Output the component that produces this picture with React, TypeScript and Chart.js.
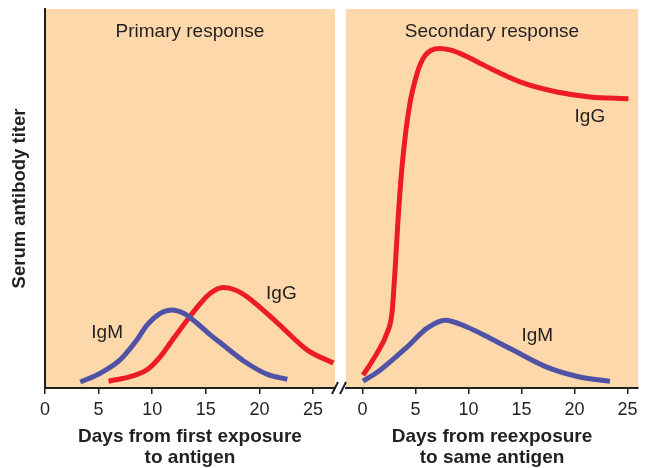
import React, { useEffect, useRef } from "react";
import { Chart, registerables } from "chart.js";

Chart.register(...registerables);

// ---------- data ----------
const TICKS = [0, 5, 10, 15, 20, 25];

const PRIMARY_IGM_DAYS = [3.3, 5.16, 7.0, 8.58, 9.51, 10.76, 11.85, 12.93, 14.18, 15.42, 16.5, 18.5, 20.74, 22.6];
const PRIMARY_IGM_TITER = [1.6, 3.9, 7.4, 12.7, 16.6, 19.7, 20.6, 19.7, 17.1, 14.0, 11.6, 7.2, 3.6, 2.3];

const PRIMARY_IGG_DAYS = [5.93, 7.96, 9.51, 10.76, 12.0, 13.25, 14.49, 15.42, 16.63, 17.8, 18.87, 21.67, 24.47, 26.9];
const PRIMARY_IGG_TITER = [1.8, 3.0, 4.8, 8.3, 13.1, 17.9, 22.3, 25.0, 26.5, 25.8, 24.0, 17.2, 10.0, 6.6];

const SECONDARY_IGG_DAYS = [0.05, 1.37, 2.31, 2.78, 3.07, 3.35, 3.7, 4.1, 4.5, 4.95, 5.42, 5.9, 6.53, 7.31, 8.25, 9.51, 11.08, 12.66, 15.14, 18.35, 21.46, 25.1];
const SECONDARY_IGG_TITER = [3.4, 9.2, 14.5, 19.8, 31.1, 44.3, 57.5, 68.0, 75.5, 81.0, 85.2, 87.7, 89.2, 89.6, 89.2, 87.9, 85.7, 83.5, 80.5, 78.1, 76.8, 76.3];

const SECONDARY_IGM_DAYS = [0.05, 1.65, 4.2, 6.1, 7.8, 9.85, 12.0, 14.2, 17.4, 20.5, 23.35];
const SECONDARY_IGM_TITER = [1.8, 4.7, 10.8, 15.8, 17.9, 16.1, 13.2, 10.0, 5.5, 2.9, 1.8];

const PRIMARY_TITLE = "Primary response";
const SECONDARY_TITLE = "Secondary response";
const PRIMARY_X_TITLE = ["Days from first exposure", "to antigen"];
const SECONDARY_X_TITLE = ["Days from reexposure", "to same antigen"];
const Y_TITLE = "Serum antibody titer";

// curve labels: [text, day, titer]
const PRIMARY_LABELS: [string, number, number][] = [
  ["IgM", 5.8, 14.5],
  ["IgG", 22.05, 24.8],
];
const SECONDARY_LABELS: [string, number, number][] = [
  ["IgG", 21.46, 71.5],
  ["IgM", 16.5, 13.7],
];

// ---------- styles ----------
const INK = "#231f20";
const PEACH = "#fdd8ab";
const RED = "#ed1c24";
const BLUE = "#5052a6";
const FONT = "'Liberation Sans', Arial, Helvetica, sans-serif";

const pts = (xs: number[], ys: number[]) => xs.map((x, i) => ({ x, y: ys[i] }));

const lineDs = (label: string, xs: number[], ys: number[], color: string) => ({
  label,
  data: pts(xs, ys),
  borderColor: color,
  backgroundColor: color,
  borderWidth: 5,
  pointRadius: 0,
  fill: false,
  cubicInterpolationMode: "monotone" as const,
  borderCapStyle: "butt" as const,
  borderJoinStyle: "round" as const,
});

const bgPlugin = {
  id: "peachBg",
  beforeDraw(chart: any) {
    const { ctx, chartArea: a } = chart;
    ctx.save();
    ctx.fillStyle = PEACH;
    ctx.fillRect(a.left, a.top, a.right - a.left, a.bottom - a.top);
    ctx.restore();
  },
};

const textPlugin = (title: string, labels: [string, number, number][]) => ({
  id: "texts",
  afterDatasetsDraw(chart: any) {
    const { ctx, chartArea: a, scales } = chart;
    ctx.save();
    ctx.fillStyle = INK;
    ctx.font = `19px ${FONT}`;
    ctx.textAlign = "center";
    ctx.textBaseline = "middle";
    ctx.fillText(title, (a.left + a.right) / 2, a.top + 23);
    labels.forEach(([t, x, y]) => {
      ctx.fillText(t, scales.x.getPixelForValue(x), scales.y.getPixelForValue(y));
    });
    ctx.restore();
  },
});

const breakPlugin = {
  id: "axisBreak",
  afterDraw(chart: any) {
    const { ctx, chartArea: a } = chart;
    ctx.save();
    ctx.strokeStyle = INK;
    ctx.lineWidth = 2;
    [-11, -3].forEach((o) => {
      ctx.beginPath();
      ctx.moveTo(a.left + o - 3, a.bottom + 6);
      ctx.lineTo(a.left + o + 3, a.bottom - 6);
      ctx.stroke();
    });
    ctx.restore();
  },
};

const xScale = (min: number, max: number, title: string[]) => ({
  type: "linear" as const,
  min,
  max,
  afterBuildTicks: (s: any) => {
    s.ticks = TICKS.map((v) => ({ value: v }));
  },
  afterFit: (s: any) => {
    s.height = 80;
  },
  grid: {
    display: true,
    drawOnChartArea: false,
    drawTicks: true,
    tickLength: 6,
    color: INK,
    lineWidth: 1.5,
  },
  border: { display: true, color: INK, width: 2 },
  ticks: {
    color: INK,
    font: { family: FONT, size: 18 },
    padding: 5,
    maxRotation: 0,
    autoSkip: false,
  },
  title: {
    display: true,
    text: title,
    color: INK,
    font: { family: FONT, size: 19, weight: "bold" as const, lineHeight: 1.1 },
    padding: { top: 0, bottom: 0 },
  },
});

export default function App() {
  const leftRef = useRef<HTMLCanvasElement>(null);
  const rightRef = useRef<HTMLCanvasElement>(null);

  useEffect(() => {
    const left = new Chart(leftRef.current!, {
      type: "line",
      data: {
        datasets: [
          lineDs("IgM", PRIMARY_IGM_DAYS, PRIMARY_IGM_TITER, BLUE),
          lineDs("IgG", PRIMARY_IGG_DAYS, PRIMARY_IGG_TITER, RED),
        ] as any,
      },
      options: {
        animation: false,
        responsive: false,
        layout: { padding: { top: 9, right: 5, left: 0, bottom: 0 } },
        plugins: { legend: { display: false }, tooltip: { enabled: false } },
        scales: {
          x: xScale(0, 27.05, PRIMARY_X_TITLE) as any,
          y: {
            min: 0,
            max: 100,
            afterFit: (s: any) => {
              s.width = 45;
            },
            ticks: { display: false },
            grid: { display: false },
            border: { display: true, color: INK, width: 2 },
            title: {
              display: true,
              text: Y_TITLE,
              color: INK,
              font: { family: FONT, size: 18.5, weight: "bold" as const, lineHeight: 1.2 },
              padding: { top: 9, bottom: 0 },
            },
          },
        },
      },
      plugins: [bgPlugin, textPlugin(PRIMARY_TITLE, PRIMARY_LABELS)],
    });

    const right = new Chart(rightRef.current!, {
      type: "line",
      data: {
        datasets: [
          lineDs("IgG", SECONDARY_IGG_DAYS, SECONDARY_IGG_TITER, RED),
          lineDs("IgM", SECONDARY_IGM_DAYS, SECONDARY_IGM_TITER, BLUE),
        ] as any,
      },
      options: {
        animation: false,
        responsive: false,
        layout: { padding: { top: 9, right: 12, left: 16, bottom: 0 } },
        plugins: { legend: { display: false }, tooltip: { enabled: false } },
        scales: {
          x: xScale(-1.56, 26.0, SECONDARY_X_TITLE) as any,
          y: { min: 0, max: 100, display: false },
        },
      },
      plugins: [bgPlugin, textPlugin(SECONDARY_TITLE, SECONDARY_LABELS), breakPlugin],
    });

    return () => {
      left.destroy();
      right.destroy();
    };
  }, []);

  return (
    <div style={{ position: "absolute", left: 0, top: 0, width: 650, height: 468, background: "#fff" }}>
      <canvas
        ref={leftRef}
        width={340}
        height={468}
        style={{ position: "absolute", left: 0, top: 0, width: 340, height: 468 }}
      />
      <canvas
        ref={rightRef}
        width={320}
        height={468}
        style={{ position: "absolute", left: 330, top: 0, width: 320, height: 468 }}
      />
    </div>
  );
}
